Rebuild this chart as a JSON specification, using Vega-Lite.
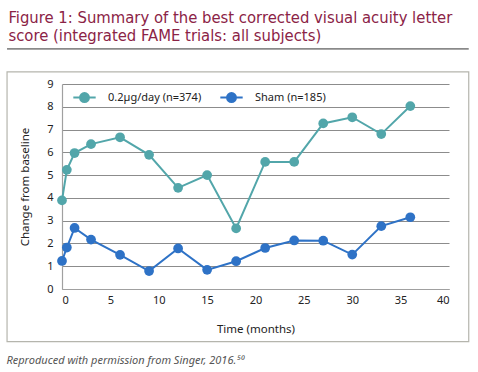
{
  "$schema": "https://vega.github.io/schema/vega-lite/v6.json",
  "autosize": {"type": "pad"},
  "padding": {"left": 6, "top": 9, "right": 10, "bottom": 0},
  "background": "white",
  "title": {
    "text": ["Figure 1: Summary of the best corrected visual acuity letter", "score (integrated FAME trials: all subjects)"],
    "anchor": "start",
    "frame": "bounds",
    "font": "'DejaVu Sans Condensed', 'Liberation Sans Narrow', 'Noto Sans'",
    "fontSize": 16.5,
    "fontWeight": "normal",
    "lineHeight": 18,
    "color": "#8B2346",
    "offset": 4,
    "dx": 2
  },
  "datasets": {
    "acuity": [
      {"t": 0, "v": 3.89, "g": "0.2µg/day (n=374)"},
      {"t": 0.5, "v": 5.23, "g": "0.2µg/day (n=374)"},
      {"t": 1.3, "v": 5.97, "g": "0.2µg/day (n=374)"},
      {"t": 3, "v": 6.36, "g": "0.2µg/day (n=374)"},
      {"t": 6, "v": 6.66, "g": "0.2µg/day (n=374)"},
      {"t": 9, "v": 5.89, "g": "0.2µg/day (n=374)"},
      {"t": 12, "v": 4.44, "g": "0.2µg/day (n=374)"},
      {"t": 15, "v": 5.0, "g": "0.2µg/day (n=374)"},
      {"t": 18, "v": 2.66, "g": "0.2µg/day (n=374)"},
      {"t": 21, "v": 5.58, "g": "0.2µg/day (n=374)"},
      {"t": 24, "v": 5.58, "g": "0.2µg/day (n=374)"},
      {"t": 27, "v": 7.27, "g": "0.2µg/day (n=374)"},
      {"t": 30, "v": 7.54, "g": "0.2µg/day (n=374)"},
      {"t": 33, "v": 6.8, "g": "0.2µg/day (n=374)"},
      {"t": 36, "v": 8.03, "g": "0.2µg/day (n=374)"},
      {"t": 0, "v": 1.23, "g": "Sham (n=185)"},
      {"t": 0.5, "v": 1.82, "g": "Sham (n=185)"},
      {"t": 1.3, "v": 2.68, "g": "Sham (n=185)"},
      {"t": 3, "v": 2.17, "g": "Sham (n=185)"},
      {"t": 6, "v": 1.5, "g": "Sham (n=185)"},
      {"t": 9, "v": 0.79, "g": "Sham (n=185)"},
      {"t": 12, "v": 1.78, "g": "Sham (n=185)"},
      {"t": 15, "v": 0.84, "g": "Sham (n=185)"},
      {"t": 18, "v": 1.22, "g": "Sham (n=185)"},
      {"t": 21, "v": 1.8, "g": "Sham (n=185)"},
      {"t": 24, "v": 2.13, "g": "Sham (n=185)"},
      {"t": 27, "v": 2.12, "g": "Sham (n=185)"},
      {"t": 30, "v": 1.51, "g": "Sham (n=185)"},
      {"t": 33, "v": 2.76, "g": "Sham (n=185)"},
      {"t": 36, "v": 3.15, "g": "Sham (n=185)"}
    ]
  },
  "vconcat": [
    {
      "width": 387,
      "height": 205,
      "title": {
        "text": "Reproduced with permission from Singer, 2016.⁵⁰",
        "orient": "bottom",
        "anchor": "start",
        "frame": "bounds",
        "font": "Noto Sans",
        "fontSize": 11,
        "fontStyle": "italic",
        "fontWeight": "normal",
        "color": "#555555",
        "offset": 13
      },
      "layer": [
        {
          "data": {"values": [{}]},
          "mark": {"type": "rect", "fill": null, "stroke": "#b5b5ad", "strokeWidth": 1.2, "clip": false},
          "encoding": {
            "x": {"datum": -5.68, "type": "quantitative",
              "scale": {"domain": [0, 40], "nice": false, "zero": false},
              "axis": {"values": [0, 5, 10, 15, 20, 25, 30, 35, 40], "title": "Time (months)", "grid": false, "ticks": false, "labelPadding": 5, "titlePadding": 18}},
            "x2": {"datum": 42.04},
            "y": {"datum": -2.31, "type": "quantitative",
              "scale": {"domain": [0, 9], "nice": false, "zero": false},
              "axis": {"values": [0, 1, 2, 3, 4, 5, 6, 7, 8, 9], "labelOverlap": false, "title": "Change from baseline", "grid": true, "ticks": false, "labelPadding": 9, "titlePadding": 16}},
            "y2": {"datum": 9.53}
          }
        },
        {
          "data": {"values": [{}]},
          "mark": {"type": "rule", "stroke": "#333333", "strokeWidth": 1, "clip": false},
          "encoding": {
            "x": {"datum": -5.68, "type": "quantitative",
              "scale": {"domain": [0, 40], "nice": false, "zero": false},
              "axis": {"values": [0, 5, 10, 15, 20, 25, 30, 35, 40], "title": "Time (months)", "grid": false, "ticks": false, "labelPadding": 5, "titlePadding": 18}},
            "x2": {"datum": 42.04},
            "y": {"datum": 10.54, "type": "quantitative",
              "scale": {"domain": [0, 9], "nice": false, "zero": false},
              "axis": {"values": [0, 1, 2, 3, 4, 5, 6, 7, 8, 9], "labelOverlap": false, "title": "Change from baseline", "grid": true, "ticks": false, "labelPadding": 9, "titlePadding": 16}}
          }
        },
        {
          "data": {"name": "acuity"},
          "mark": {"type": "line", "strokeWidth": 2},
          "encoding": {
            "x": {
              "field": "t", "type": "quantitative",
              "scale": {"domain": [0, 40], "nice": false, "zero": false},
              "axis": {"values": [0, 5, 10, 15, 20, 25, 30, 35, 40], "title": "Time (months)", "grid": false, "ticks": false, "labelPadding": 5, "titlePadding": 18}
            },
            "y": {
              "field": "v", "type": "quantitative",
              "scale": {"domain": [0, 9], "nice": false, "zero": false},
              "axis": {"values": [0, 1, 2, 3, 4, 5, 6, 7, 8, 9], "labelOverlap": false, "title": "Change from baseline", "grid": true, "ticks": false, "labelPadding": 9, "titlePadding": 16}
            },
            "color": {
              "field": "g", "type": "nominal",
              "scale": {"domain": ["0.2µg/day (n=374)", "Sham (n=185)"], "range": ["#52A6AA", "#2E72C6"]},
              "legend": {
                "orient": "none",
                "legendX": 10,
                "legendY": 1,
                "direction": "horizontal",
                "title": null,
                "symbolType": "M-1,0L-0.4,0M0.4,0L1,0M-0.4,0A0.4,0.4,0,1,1,0.4,0A0.4,0.4,0,1,1,-0.4,0Z",
                "symbolSize": 500,
                "symbolStrokeWidth": 2,
                "labelOffset": 11,
                "columnPadding": 14,
                "padding": 0,
                "encode": {
                  "symbols": {"update": {"fill": {"scale": "color", "field": "value"}, "stroke": {"scale": "color", "field": "value"}, "opacity": {"value": 1}}}
                }
              }
            }
          }
        },
        {
          "data": {"name": "acuity"},
          "mark": {"type": "circle", "size": 95, "opacity": 1},
          "encoding": {
            "x": {
              "field": "t", "type": "quantitative",
              "scale": {"domain": [0, 40], "nice": false, "zero": false},
              "axis": {"values": [0, 5, 10, 15, 20, 25, 30, 35, 40], "title": "Time (months)", "grid": false, "ticks": false, "labelPadding": 5, "titlePadding": 18}
            },
            "y": {
              "field": "v", "type": "quantitative",
              "scale": {"domain": [0, 9], "nice": false, "zero": false},
              "axis": {"values": [0, 1, 2, 3, 4, 5, 6, 7, 8, 9], "labelOverlap": false, "title": "Change from baseline", "grid": true, "ticks": false, "labelPadding": 9, "titlePadding": 16}
            },
            "color": {"field": "g", "type": "nominal", "legend": null}
          }
        }
      ]
    }
  ],
  "config": {
    "font": "Noto Sans",
    "view": {"stroke": null},
    "axis": {
      "labelFont": "Noto Sans",
      "labelFontSize": 11,
      "labelColor": "#222222",
      "titleFont": "Noto Sans",
      "titleFontSize": 11.5,
      "titleFontWeight": "normal",
      "titleColor": "#222222",
      "domainColor": "#a0a0a0",
      "domainWidth": 1.2,
      "gridColor": "#8c8c8c",
      "gridWidth": 1
    },
    "legend": {
      "labelFont": "Noto Sans",
      "labelFontSize": 11,
      "labelColor": "#222222"
    }
  }
}
